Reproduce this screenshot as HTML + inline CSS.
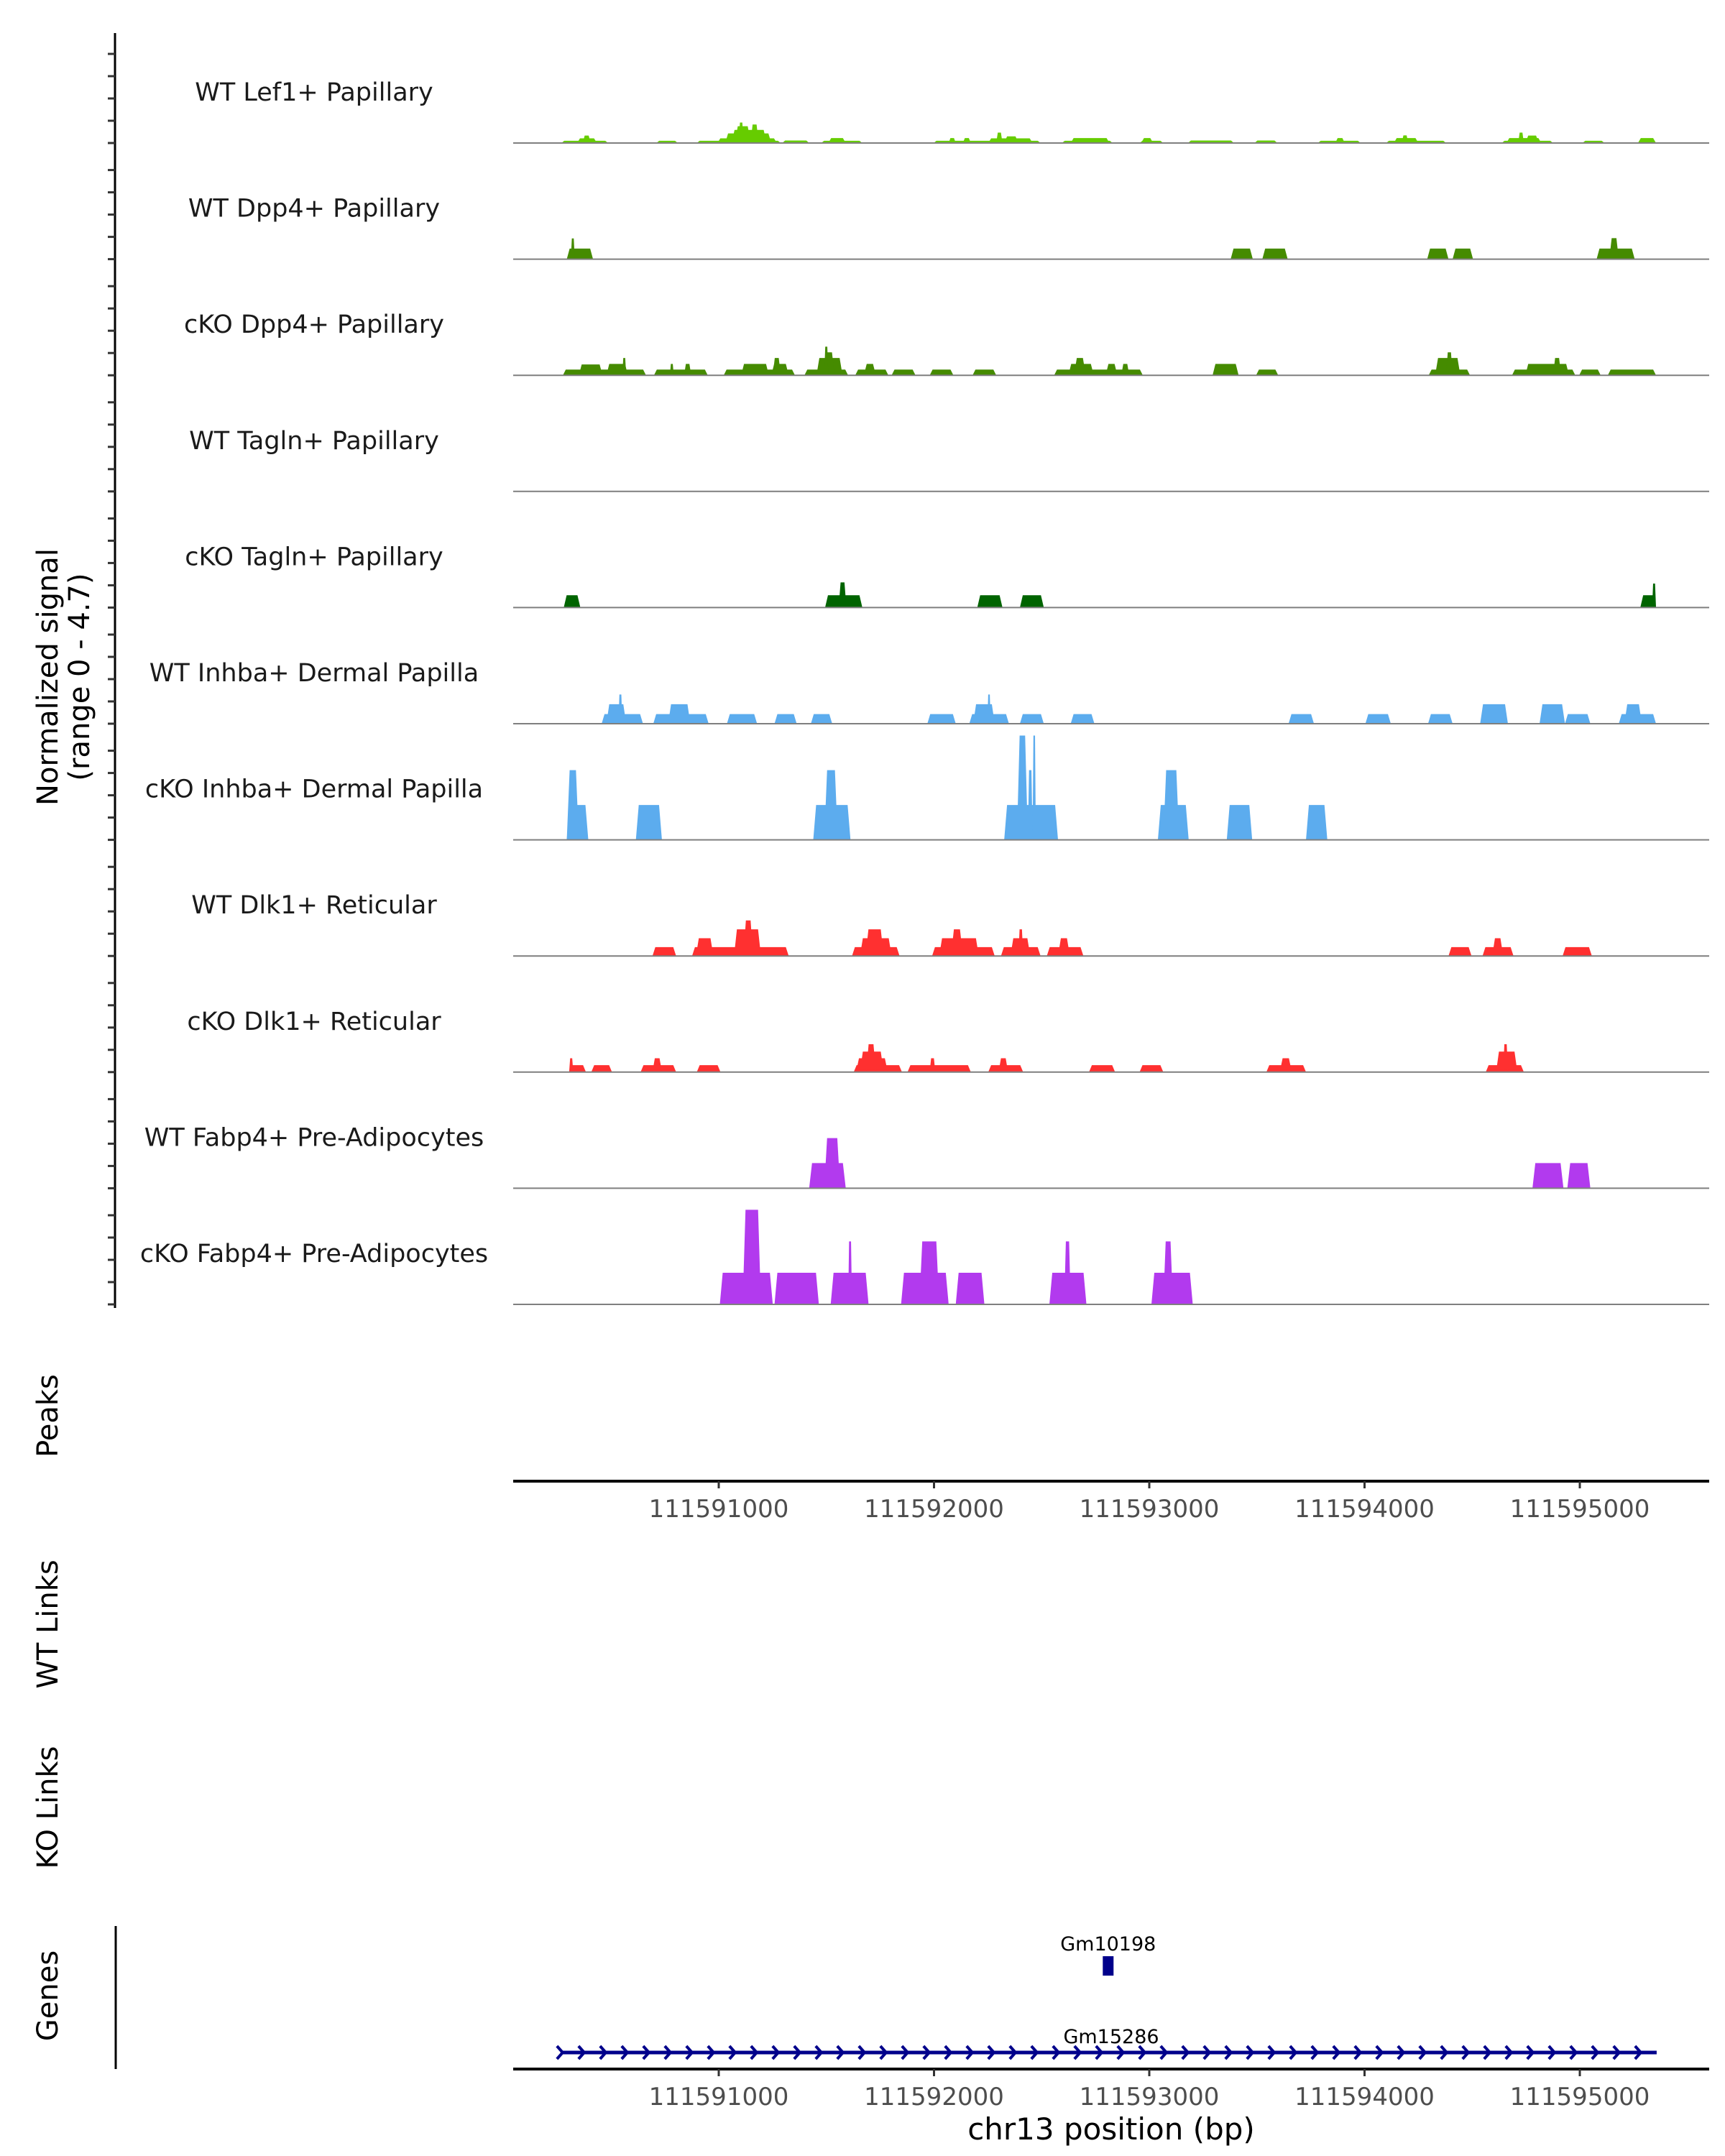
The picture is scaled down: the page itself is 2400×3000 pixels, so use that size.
<!DOCTYPE html>
<html><head><meta charset="utf-8"><style>
html,body{margin:0;padding:0;background:#fff}
svg{display:block}
text{font-family:"DejaVu Sans","Liberation Sans",sans-serif}
</style></head><body>
<svg id="chart" width="2400" height="3000" viewBox="0 0 2400 3000"></svg>
<script>
const regionStart = 111590000;
const trackNames = ["WT Lef1+ Papillary","WT Dpp4+ Papillary","cKO Dpp4+ Papillary","WT Tagln+ Papillary","cKO Tagln+ Papillary","WT Inhba+ Dermal Papilla","cKO Inhba+ Dermal Papilla","WT Dlk1+ Reticular","cKO Dlk1+ Reticular","WT Fabp4+ Pre-Adipocytes","cKO Fabp4+ Pre-Adipocytes"];
const trackColors = ["#66cc00","#458b00","#458b00","#006400","#006400","#5cacee","#5cacee","#ff3030","#ff3030","#b23aee","#b23aee"];
const xTicks = [111591000,111592000,111593000,111594000,111595000];
const yMax = 4.7;
// signal blocks: [startOffsetBp, endOffsetBp, value]
const lef1WT = [[269,486,0.09],[342,434,0.19],[368,405,0.3],[710,810,0.09],[898,1288,0.09],[994,1270,0.19],[1030,1244,0.39],[1060,1222,0.53],[1075,1148,0.68],[1093,1115,0.83],[1148,1185,0.75],[1295,1420,0.1],[1476,1667,0.09],[1509,1590,0.2],[1998,2495,0.09],[2068,2101,0.2],[2134,2171,0.2],[2252,2458,0.19],[2289,2318,0.42],[2326,2392,0.27],[2594,2830,0.09],[2635,2815,0.2],[2955,3065,0.09],[2962,3018,0.2],[3180,3393,0.1],[3489,3595,0.1],[3783,3982,0.09],[3864,3908,0.2],[4100,4379,0.09],[4136,4250,0.2],[4173,4203,0.31],[4637,4876,0.09],[4659,4821,0.2],[4714,4740,0.42],[4747,4810,0.3],[5012,5115,0.09],[5270,5354,0.2]];
const dpp4WT = [[294,416,0.43],[313,331,0.84],[3378,3481,0.43],[3525,3643,0.43],[4291,4390,0.43],[4409,4504,0.43],[5078,5255,0.43],[5137,5181,0.85]];
const dpp4KO = [[276,662,0.23],[350,460,0.44],[478,578,0.46],[552,570,0.7],[699,949,0.23],[773,791,0.46],[839,872,0.46],[1023,1354,0.23],[1104,1233,0.46],[1244,1325,0.46],[1251,1288,0.7],[1398,1601,0.23],[1454,1575,0.7],[1490,1538,0.93],[1490,1509,1.16],[1634,1788,0.23],[1674,1730,0.46],[1803,1914,0.23],[1980,2090,0.23],[2179,2289,0.23],[2558,2970,0.23],[2624,2742,0.46],[2650,2705,0.7],[2797,2852,0.46],[2870,2907,0.46],[3294,3415,0.46],[3496,3599,0.23],[4298,4490,0.23],[4328,4445,0.7],[4379,4409,0.93],[4685,4979,0.23],[4747,4950,0.46],[4876,4913,0.7],[4997,5097,0.23],[5130,5354,0.23]];
const taglnWT = [];
const taglnKO = [[280,357,0.5],[1494,1667,0.5],[1557,1593,1.02],[2201,2318,0.5],[2399,2510,0.5],[5281,5354,0.5],[5336,5354,0.97]];
const inhbaWT = [[456,648,0.39],[478,570,0.79],[534,552,1.18],[696,953,0.39],[765,868,0.79],[1038,1178,0.39],[1259,1362,0.39],[1428,1527,0.39],[1969,2101,0.39],[2164,2348,0.39],[2182,2282,0.79],[2248,2263,1.18],[2399,2510,0.39],[2635,2745,0.39],[3647,3765,0.39],[4004,4122,0.39],[4295,4409,0.39],[4537,4666,0.79],[4813,4931,0.79],[4931,5049,0.39],[5181,5354,0.39],[5207,5288,0.79]];
const inhbaKO = [[294,394,1.41],[294,350,2.82],[615,736,1.41],[1439,1612,1.41],[1490,1553,2.82],[2326,2576,1.41],[2385,2436,4.22],[2436,2458,2.82],[2458,2473,4.22],[3040,3183,1.41],[3065,3139,2.82],[3360,3478,1.41],[3728,3827,1.41]];
const dlk1WT = [[692,802,0.36],[876,1325,0.36],[894,975,0.72],[1071,1196,1.08],[1115,1159,1.44],[1619,1840,0.36],[1656,1803,0.72],[1682,1766,1.08],[1991,2282,0.36],[2024,2208,0.72],[2079,2134,1.08],[2311,2495,0.36],[2355,2447,0.72],[2392,2414,1.08],[2524,2694,0.36],[2576,2631,0.72],[4390,4497,0.36],[4548,4692,0.36],[4593,4644,0.72],[4920,5056,0.36]];
const dlk1KO = [[305,383,0.28],[305,324,0.56],[408,504,0.28],[637,802,0.28],[692,736,0.56],[898,1008,0.28],[1627,1851,0.28],[1638,1785,0.56],[1656,1766,0.83],[1685,1730,1.13],[1877,2171,0.28],[1980,2006,0.56],[2252,2414,0.28],[2300,2344,0.56],[2720,2841,0.28],[2955,3065,0.28],[3544,3728,0.28],[3606,3662,0.56],[4563,4740,0.28],[4611,4710,0.83],[4644,4666,1.13]];
const fabp4WT = [[1420,1590,1.02],[1490,1564,2.03],[4780,4924,1.02],[4942,5049,1.02]];
const fabp4KO = [[1005,1251,1.28],[1111,1196,3.83],[1259,1465,1.28],[1520,1696,1.28],[1601,1619,2.55],[1847,2068,1.28],[1932,2024,2.55],[2101,2234,1.28],[2536,2708,1.28],[2605,2635,2.55],[3010,3202,1.28],[3065,3110,2.55]];
const trackData = [lef1WT,dpp4WT,dpp4KO,taglnWT,taglnKO,inhbaWT,inhbaKO,dlk1WT,dlk1KO,fabp4WT,fabp4KO];
const geneNames = ["Gm10198","Gm15286"];
const geneStarts = [2784,265];
const geneEnds = [2834,5357];

const NS="http://www.w3.org/2000/svg";
const svg=document.getElementById('chart');
function mk(tag,attrs,parent){const e=document.createElementNS(NS,tag);for(const k in attrs)e.setAttribute(k,attrs[k]);(parent||svg).appendChild(e);return e;}
const plotL=714, plotR=2378;
function xScale(bp){return 700.5+(bp-regionStart)*0.2995;}
const trackH=161.6, firstBase=199;
function yScale(v,base){return base - v/yMax*trackH;}

let ax=mk('line',{x1:160,y1:46,x2:160,y2:1820,stroke:'#000','stroke-width':3});


for(let t=0;t<trackNames.length;t++){
  const base=firstBase+t*trackH;
  for(let k=0;k<5;k++){
    const y=base-k*31;
    const tk=mk('line',{x1:150,y1:y,x2:160,y2:y,stroke:'#333','stroke-width':3});
    
    
  }
}
for(let t=0;t<trackNames.length;t++){
  const base=firstBase+t*trackH;
  const g=mk('g',{});
  
  
  const lbl=mk('text',{x:437,y:base-59,'font-size':35,'text-anchor':'middle',fill:'#1a1a1a'},g);
  lbl.textContent=trackNames[t];
  
  
  for(const b of trackData[t]){
    const x0=xScale(regionStart+b[0]), x1=xScale(regionStart+b[1]);
    const y=yScale(b[2],base);
    const w=x1-x0, s=Math.min(4,w/4);
    const p=mk('polygon',{points:`${x0},${base} ${x0+s},${y} ${x1-s},${y} ${x1},${base}`,fill:trackColors[t]},g);
    
    
  }
  const bl=mk('line',{x1:plotL,y1:base,x2:plotR,y2:base,stroke:'#7f7f7f','stroke-width':2},g);
  
  
}
function xAxis(y,name){
  const a=mk('line',{x1:plotL,y1:y,x2:plotR,y2:y,stroke:'#000','stroke-width':4});
  
  
  for(const v of xTicks){
    const x=xScale(v);
    const tk=mk('line',{x1:x,y1:y,x2:x,y2:y+10,stroke:'#333','stroke-width':3});
    
    
    const tl=mk('text',{x:x,y:y+50,'font-size':34,'text-anchor':'middle',fill:'#4d4d4d'});
    tl.textContent=v;
    
    
  }
}
xAxis(2061,'peaks-x-axis');
xAxis(2879,'genes-x-axis');
const xt=mk('text',{x:1546,y:2977,'font-size':42,'text-anchor':'middle',fill:'#000'});
xt.textContent='chr13 position (bp)';



function vtitle(txt,x,y,name,size){
  const e=mk('text',{x:x,y:y,'font-size':size||40,'text-anchor':'middle',fill:'#000',transform:`rotate(-90 ${x} ${y})`});
  e.textContent=txt;
  
  
}
vtitle('Normalized signal',80,942,'y-axis-title');
vtitle('(range 0 - 4.7)',124,942,'y-axis-subtitle');
vtitle('Peaks',80,1970,'peaks-title');
vtitle('WT Links',80,2260,'wt-links-title');
vtitle('KO Links',80,2515,'ko-links-title');
vtitle('Genes',80,2777,'genes-title');
let ga=mk('line',{x1:161,y1:2680,x2:161,y2:2879,stroke:'#000','stroke-width':3});



const geneColor='#00008b';
{
  const x0=xScale(regionStart+geneStarts[0]), x1=xScale(regionStart+geneEnds[0]);
  const r=mk('rect',{x:x0,y:2722,width:x1-x0,height:27,fill:geneColor});
  
  
  const l=mk('text',{x:(x0+x1)/2,y:2714,'font-size':27,'text-anchor':'middle',fill:'#000'});
  l.textContent=geneNames[0];
  
  
}
{
  const x0=xScale(regionStart+geneStarts[1]), x1=xScale(regionStart+geneEnds[1]);
  const y=2856;
  const ln=mk('line',{x1:x0,y1:y,x2:x1,y2:y,stroke:geneColor,'stroke-width':5});
  
  
  let d='';
  for(let x=x0;x<=x1+1;x+=30){d+=`M${x-5},${y-9} L${x+3},${y} L${x-5},${y+9} `;}
  const ch=mk('path',{d:d,stroke:geneColor,'stroke-width':4,fill:'none'});
  
  
  const l=mk('text',{x:1546,y:2843,'font-size':27,'text-anchor':'middle',fill:'#000'});
  l.textContent=geneNames[1];
  
  
}
</script>
</body></html>
